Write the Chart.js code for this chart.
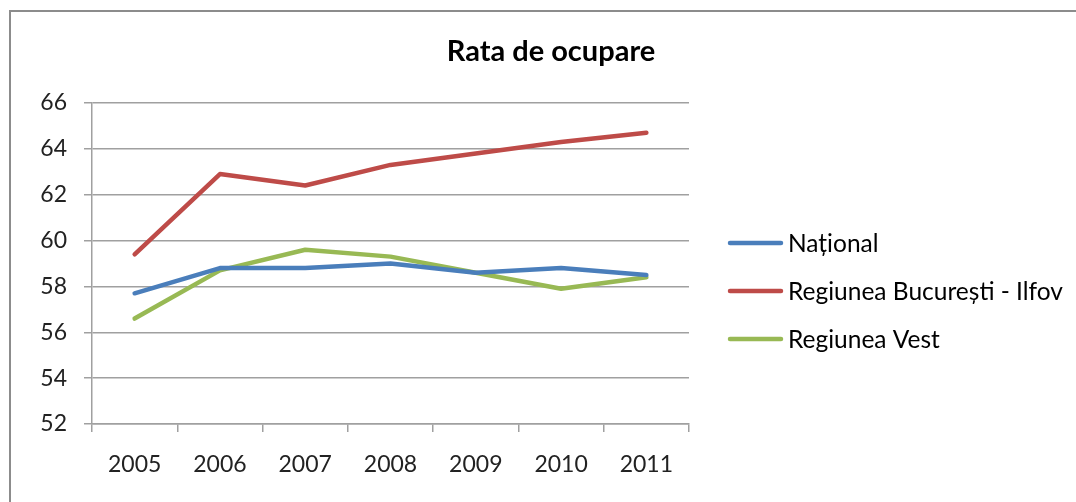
<!DOCTYPE html>
<html>
<head>
<meta charset="utf-8">
<script src="https://cdn.jsdelivr.net/npm/chart.js@4"></script>
<style>
  html, body { margin: 0; padding: 0; background: #fff; overflow: hidden; }
  #wrap { position: relative; width: 1076px; height: 502px; }
  #frame { position: absolute; left: 9px; top: 10px; width: 1100px; height: 520px;
           border-top: 2px solid #8c8c8c; border-left: 2px solid #8c8c8c; }
  canvas { position: absolute; left: 0; top: 0; }
</style>
</head>
<body>
<div id="wrap">
  <div id="frame"></div>
  <canvas id="chart" width="1076" height="502"></canvas>
</div>
<script>
const chartTitle = 'Rata de ocupare';
const years = ['2005', '2006', '2007', '2008', '2009', '2010', '2011'];
const national = [57.7, 58.8, 58.8, 59.0, 58.6, 58.8, 58.5];
const bucurestiIlfov = [59.4, 62.9, 62.4, 63.3, 63.8, 64.3, 64.7];
const vest = [56.6, 58.7, 59.6, 59.3, 58.6, 57.9, 58.4];
const seriesNames = ['Național', 'Regiunea București - Ilfov', 'Regiunea Vest'];
const seriesColors = ['#4a7ebb', '#be4b48', '#98b954'];

const FONT = 'Lato, Calibri, "Open Sans", sans-serif';

// title and legend drawn by hand so they land where Excel put them
const sidePlugin = {
  id: 'sidePlugin',
  afterDraw(chart) {
    const c = chart.ctx;
    c.save();
    c.fillStyle = '#000';
    c.font = 'bold 29px ' + FONT;
    c.textAlign = 'center';
    c.textBaseline = 'middle';
    c.fillText(chartTitle, 551, 52);

    c.font = '24.5px ' + FONT;
    c.textAlign = 'left';
    chart.data.datasets.forEach((ds, i) => {
      const y = 243 + i * 48;
      c.strokeStyle = ds.borderColor;
      c.lineWidth = 4.5;
      c.lineCap = 'round';
      c.beginPath();
      c.moveTo(730, y);
      c.lineTo(781, y);
      c.stroke();
      c.fillStyle = '#000';
      c.fillText(ds.label, 788, y + 1);
    });
    c.restore();
  }
};

const ctx = document.getElementById('chart');
const chart = new Chart(ctx, {
  type: 'line',
  data: {
    labels: years,
    datasets: [
      { label: seriesNames[0], data: national, borderColor: seriesColors[0] },
      { label: seriesNames[1], data: bucurestiIlfov, borderColor: seriesColors[1] },
      { label: seriesNames[2], data: vest, borderColor: seriesColors[2] },
    ].map(d => Object.assign(d, {
      backgroundColor: d.borderColor,
      borderWidth: 4.5,
      pointRadius: 0,
      tension: 0,
      borderCapStyle: 'round',
      borderJoinStyle: 'round',
    })),
  },
  options: {
    responsive: false,
    animation: false,
    layout: { padding: { top: 103, right: 387, left: 0, bottom: 0 } },
    plugins: {
      legend: { display: false },
      title: { display: false },
      tooltip: { enabled: false },
    },
    scales: {
      x: {
        offset: true,
        grid: { offset: true, drawOnChartArea: false, drawTicks: true, tickLength: 8, color: '#a0a0a0', lineWidth: 1.5 },
        border: { color: '#a0a0a0', width: 1.5 },
        ticks: { color: '#222', font: { family: FONT, size: 23 }, padding: 19 },
        afterFit(scale) { scale.height = 78; },
      },
      y: {
        min: 52,
        max: 66,
        ticks: { stepSize: 2, color: '#222', font: { family: FONT, size: 23 }, padding: 17 },
        grid: { color: '#a0a0a0', lineWidth: 1.5, tickLength: 8 },
        border: { color: '#a0a0a0', width: 1.5 },
        afterFit(scale) { scale.width = 92; },
      },
    },
  },
  plugins: [sidePlugin],
});
</script>
</body>
</html>
